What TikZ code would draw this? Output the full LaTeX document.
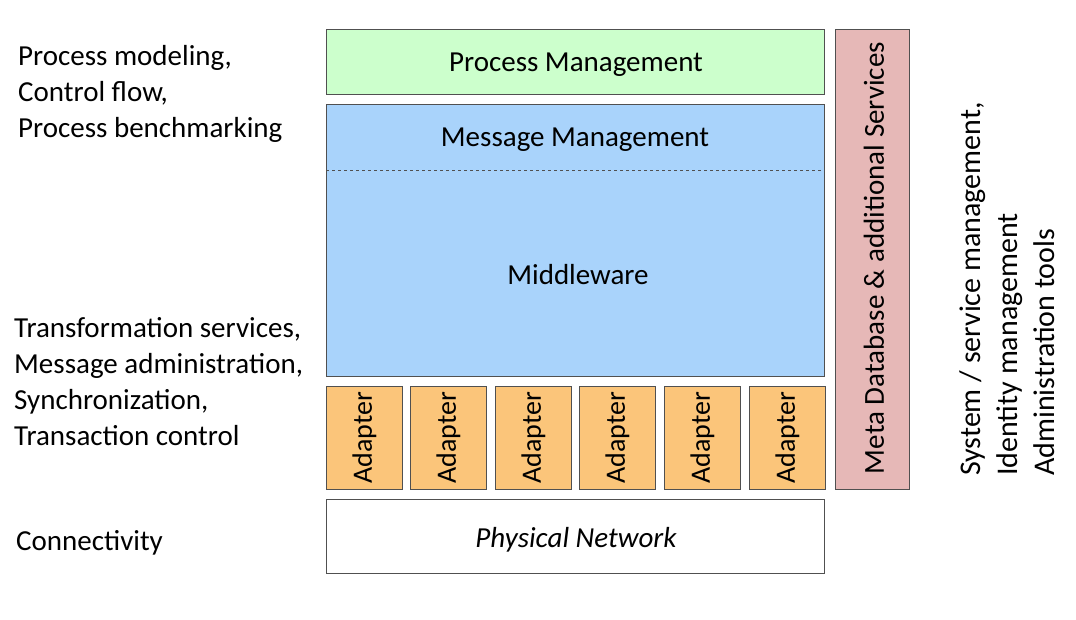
\documentclass[tikz,border=0pt]{standalone}
\usepackage{fontspec}
\setmainfont{Carlito}
\definecolor{pmgreen}{HTML}{CCFFCC}
\definecolor{mmblue}{HTML}{A9D3FB}
\definecolor{adorange}{HTML}{FBC57A}
\definecolor{metapink}{HTML}{E6B8B7}
\definecolor{edge}{HTML}{505050}
\begin{document}
\begin{tikzpicture}[x=1pt,y=-1pt,
  txt/.style={font=\fontsize{29}{34}\selectfont},
  layer/.style={draw=edge,line width=1pt,anchor=north west,inner sep=0pt},
  adapterbox/.style={layer,fill=adorange,minimum width=76pt,minimum height=103pt},
  note/.style={anchor=west,align=left,inner sep=0pt,font=\fontsize{29}{36}\selectfont}]
\useasboundingbox (0,0) rectangle (1076,620);
% Process management
\node[layer,fill=pmgreen,minimum width=498pt,minimum height=65pt] (pm) at (326,29) {};
\node[txt] (pmt) at (576,65) {Process Management};
% Message management + middleware
\node[layer,fill=mmblue,minimum width=498pt,minimum height=272pt] (mm) at (326,104) {};
\coordinate (dl) at (326,170);
\coordinate (dr) at (824,170);
\draw[edge,dashed,line width=0.8pt] (dl) -- (dr);
\node[txt] (mmt) at (575,140) {Message Management};
\node[txt] (mw) at (578,275) {Middleware};
% Adapters
\foreach \i/\x in {1/326,2/410,3/495,4/579,5/664,6/749}{
  \node[adapterbox] (ad\i) at (\x,386) {};
  \node[rotate=90,font=\fontsize{28}{32}\selectfont] (adt\i) at (ad\i.center) {Adapter};
}
% Physical network
\node[layer,fill=white,minimum width=498pt,minimum height=74pt] (pn) at (326,499) {};
\node[txt,font=\fontsize{29}{34}\selectfont\itshape] (pnt) at (576,540) {Physical Network};
% Meta database
\node[layer,fill=metapink,minimum width=74pt,minimum height=460pt] (meta) at (835,29) {};
\node[rotate=90,txt] (metat) at (874,258) {Meta Database \& additional Services};
% Left notes
\node[note] (n1) at (18,94) {Process modeling,\\Control flow,\\Process benchmarking};
\node[note] (n2) at (14,382) {Transformation services,\\Message administration,\\Synchronization,\\Transaction control};
\node[note] (n3) at (16,543) {Connectivity};
% Right notes
\node[note,rotate=90,font=\fontsize{30}{37}\selectfont] (n4) at (1007,476) {System / service management,\\Identity management\\Administration tools};
\end{tikzpicture}
\end{document}
